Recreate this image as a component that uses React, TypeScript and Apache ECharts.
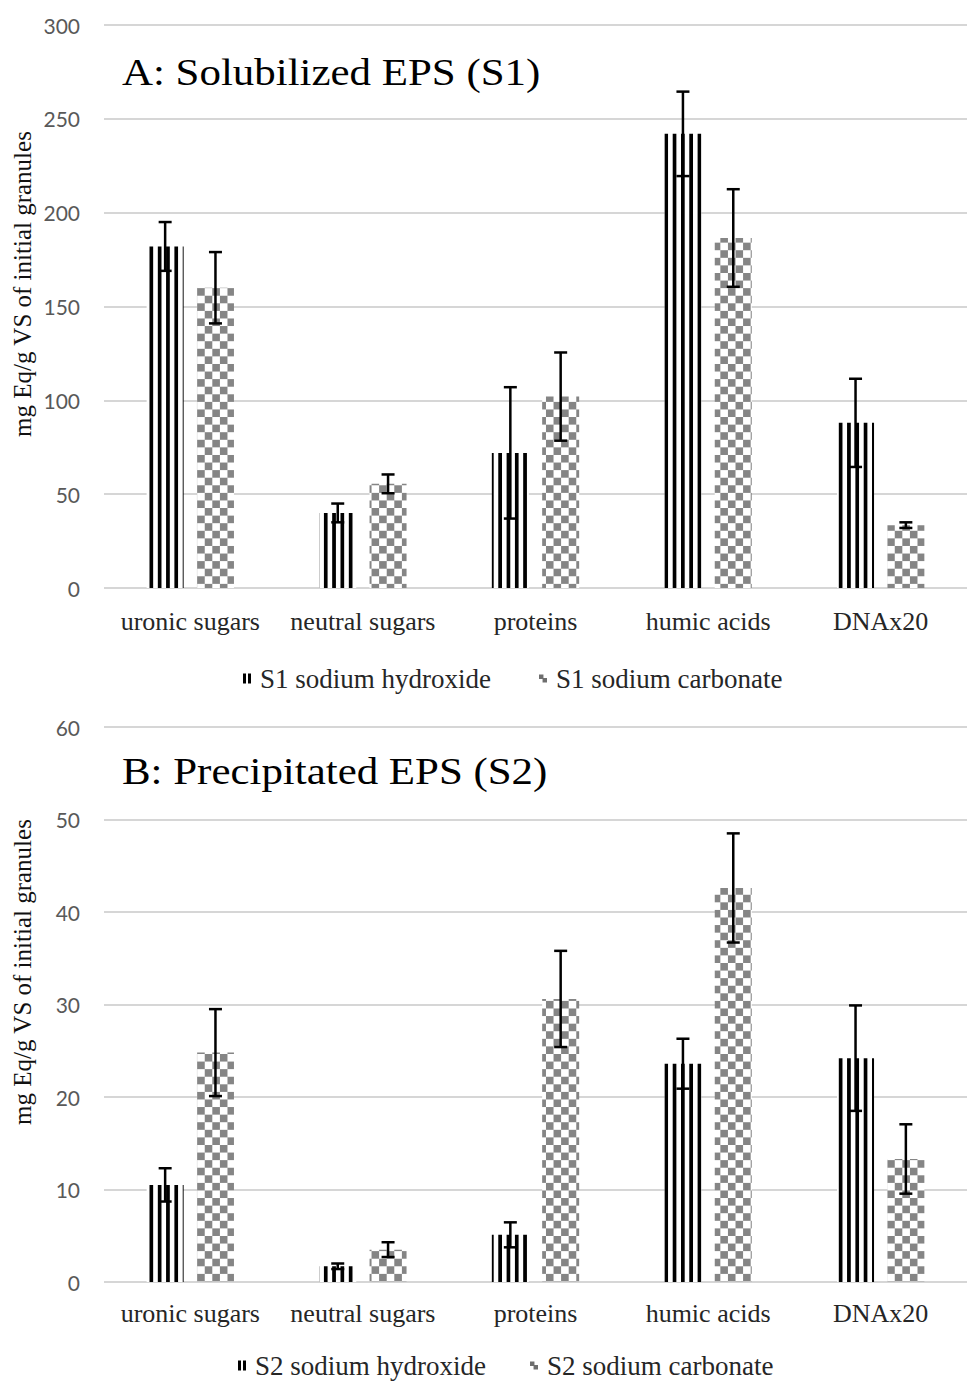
import React, { useEffect, useRef } from 'react';
import * as echarts from 'echarts';

const categories = ['uronic sugars', 'neutral sugars', 'proteins', 'humic acids', 'DNAx20'];

const s1Hydroxide = [182, 40, 72, 242, 88];
const s1HydroxideErr = [13, 5, 35, 22.5, 23.5];
const s1Carbonate = [160, 55.5, 102, 186.5, 33.5];
const s1CarbonateErr = [19, 5, 23.5, 26, 1.5];

const s2Hydroxide = [10.5, 1.7, 5.1, 23.6, 24.2];
const s2HydroxideErr = [1.8, 0.3, 1.35, 2.7, 5.7];
const s2Carbonate = [24.8, 3.5, 30.6, 42.6, 13.3];
const s2CarbonateErr = [4.7, 0.8, 5.2, 5.9, 3.75];

const s1Axis = { min: 0, max: 300, interval: 50 };
const s2Axis = { min: 0, max: 60, interval: 10 };

const legendS1 = ['S1 sodium hydroxide', 'S1 sodium carbonate'];
const legendS2 = ['S2 sodium hydroxide', 'S2 sodium carbonate'];

const titleA = 'A: Solubilized EPS (S1)';
const titleB = 'B: Precipitated EPS (S2)';
const yName = 'mg Eq/g VS of initial granules';

// layout
const W = 967;
const H = 1382;
const GRID_LEFT = 104;
const GRID_WIDTH = 872;
const BAND = GRID_WIDTH / categories.length;
const BAR_W = 37;
const GAP = 0.36;
const TOTAL = BAR_W * (1 + GAP) + BAR_W;
const LEFT0 = -TOTAL / 2;
const LEFT1 = LEFT0 + BAR_W * (1 + GAP);
const CENTER0 = LEFT0 + BAR_W / 2;
const CENTER1 = LEFT1 + BAR_W / 2;

const TOP1 = 25, BOT1 = 588;
const TOP2 = 727, BOT2 = 1282;

const svgUrl = (w: number, h: number, body: string) =>
  'data:image/svg+xml;charset=utf-8,' +
  encodeURIComponent(
    `<svg xmlns="http://www.w3.org/2000/svg" width="${w}" height="${h}" viewBox="0 0 ${w} ${h}"><rect width="${w}" height="${h}" fill="#ffffff"/>${body}</svg>`
  );

const STRIPE_P = BAND / 21;
const STRIPE_B = 3.7;
const CELL = BAND / 23;

function stripePattern(y0: number) {
  return {
    image: svgUrl(STRIPE_P, 10, `<rect x="0" y="0" width="${STRIPE_B}" height="10" fill="#000"/>`),
    repeat: 'repeat',
    imageWidth: STRIPE_P,
    imageHeight: 10,
    x: GRID_LEFT + BAND / 2 + LEFT0,
    y: y0,
  };
}
function checkerPattern(y0: number) {
  const t = CELL * 2;
  return {
    image: svgUrl(
      t,
      t,
      `<rect x="0" y="0" width="${CELL}" height="${CELL}" fill="#858585"/><rect x="${CELL}" y="${CELL}" width="${CELL}" height="${CELL}" fill="#858585"/>`
    ),
    repeat: 'repeat',
    imageWidth: t,
    imageHeight: t,
    x: GRID_LEFT + BAND / 2 + LEFT1,
    y: y0,
  };
}

function errorSeries(vals: number[], errs: number[], idx: number, offset: number) {
  return {
    type: 'custom',
    xAxisIndex: idx,
    yAxisIndex: idx,
    z: 5,
    silent: true,
    encode: { x: 0, y: [1, 2] },
    data: vals.map((v, i) => [i, v - errs[i], v + errs[i]]),
    renderItem: (params: any, api: any) => {
      const ci = api.value(0);
      const hi = api.coord([ci, api.value(2)]);
      const lo = api.coord([ci, api.value(1)]);
      const x = hi[0] + offset;
      const style = { stroke: '#000', lineWidth: 2.5 };
      const cap = 6.5;
      return {
        type: 'group',
        children: [
          { type: 'line', shape: { x1: x, y1: hi[1], x2: x, y2: lo[1] }, style },
          { type: 'line', shape: { x1: x - cap, y1: hi[1], x2: x + cap, y2: hi[1] }, style },
          { type: 'line', shape: { x1: x - cap, y1: lo[1], x2: x + cap, y2: lo[1] }, style },
        ],
      };
    },
  };
}

function xAxis(idx: number, margin: number) {
  return {
    type: 'category',
    gridIndex: idx,
    data: categories,
    axisLine: { show: false },
    axisTick: { show: false },
    axisLabel: {
      fontFamily: 'Liberation Serif',
      fontSize: 26,
      color: '#262626',
      margin,
      interval: 0,
    },
  };
}
function yAxis(idx: number, ax: { min: number; max: number; interval: number }) {
  return {
    type: 'value',
    gridIndex: idx,
    min: ax.min,
    max: ax.max,
    interval: ax.interval,
    axisLine: { show: false },
    axisTick: { show: false },
    axisLabel: { fontFamily: 'Lato', fontSize: 21, color: '#595959', margin: 24 },
    splitLine: { lineStyle: { color: '#c9c9c9', width: 1.6 } },
  };
}

const hydroxideIcon = 'path://M0,0H3V10H0Z M5,0H8V10H5Z';
const carbonateIcon = 'path://M0,0H5V5H0Z M4,4H9V9H4Z';

function legend(names: string[], left: number, top: number, gap: number) {
  return {
    left,
    top,
    padding: 0,
    itemWidth: 8,
    itemHeight: 10,
    itemGap: gap,
    textStyle: {
      fontFamily: 'Liberation Serif',
      fontSize: 27,
      lineHeight: 26,
      color: '#262626',
      padding: [0, 0, 0, 4],
    },
    data: [
      { name: names[0], icon: hydroxideIcon, itemStyle: { color: '#000' } },
      { name: names[1], icon: carbonateIcon, itemStyle: { color: '#6e6e6e' } },
    ],
  };
}

function titleText(text: string, y: number) {
  return {
    type: 'text',
    x: 122,
    y,
    scaleX: 1.16,
    style: {
      text,
      fontFamily: 'Liberation Serif',
      fontSize: 37,
      fill: '#000',
      align: 'left',
      verticalAlign: 'middle',
    },
  };
}
function yNameText(y: number) {
  return {
    type: 'text',
    x: 22,
    y,
    rotation: Math.PI / 2,
    style: {
      text: yName,
      fontFamily: 'Liberation Serif',
      fontSize: 25,
      fill: '#111',
      align: 'center',
      verticalAlign: 'middle',
    },
  };
}

export default function App() {
  const ref = useRef<HTMLDivElement>(null);
  useEffect(() => {
    document.body.style.margin = '0';
    if (!ref.current) return;
    const chart = echarts.init(ref.current, null, { renderer: 'svg' });
    const option: any = {
      animation: false,
      backgroundColor: '#ffffff',
      grid: [
        { left: GRID_LEFT, width: GRID_WIDTH, top: TOP1, height: BOT1 - TOP1 },
        { left: GRID_LEFT, width: GRID_WIDTH, top: TOP2, height: BOT2 - TOP2 },
      ],
      xAxis: [xAxis(0, 20), xAxis(1, 18)],
      yAxis: [yAxis(0, s1Axis), yAxis(1, s2Axis)],
      legend: [legend(legendS1, 243, 665, 48), legend(legendS2, 238, 1352, 44)],
      graphic: [titleText(titleA, 73), titleText(titleB, 772), yNameText(284), yNameText(972)],
      series: [
        {
          name: legendS1[0],
          type: 'bar',
          xAxisIndex: 0,
          yAxisIndex: 0,
          data: s1Hydroxide,
          barWidth: BAR_W,
          barGap: GAP * 100 + '%',
          itemStyle: { color: stripePattern(BOT1) },
        },
        {
          name: legendS1[1],
          type: 'bar',
          xAxisIndex: 0,
          yAxisIndex: 0,
          data: s1Carbonate,
          barWidth: BAR_W,
          barGap: GAP * 100 + '%',
          itemStyle: { color: checkerPattern(BOT1) },
        },
        {
          name: legendS2[0],
          type: 'bar',
          xAxisIndex: 1,
          yAxisIndex: 1,
          data: s2Hydroxide,
          barWidth: BAR_W,
          barGap: GAP * 100 + '%',
          itemStyle: { color: stripePattern(BOT2) },
        },
        {
          name: legendS2[1],
          type: 'bar',
          xAxisIndex: 1,
          yAxisIndex: 1,
          data: s2Carbonate,
          barWidth: BAR_W,
          barGap: GAP * 100 + '%',
          itemStyle: { color: checkerPattern(BOT2) },
        },
        errorSeries(s1Hydroxide, s1HydroxideErr, 0, CENTER0),
        errorSeries(s1Carbonate, s1CarbonateErr, 0, CENTER1),
        errorSeries(s2Hydroxide, s2HydroxideErr, 1, CENTER0),
        errorSeries(s2Carbonate, s2CarbonateErr, 1, CENTER1),
      ],
    };
    chart.setOption(option);
    return () => chart.dispose();
  }, []);
  return <div ref={ref} style={{ width: W, height: H, overflow: 'hidden' }} />;
}
